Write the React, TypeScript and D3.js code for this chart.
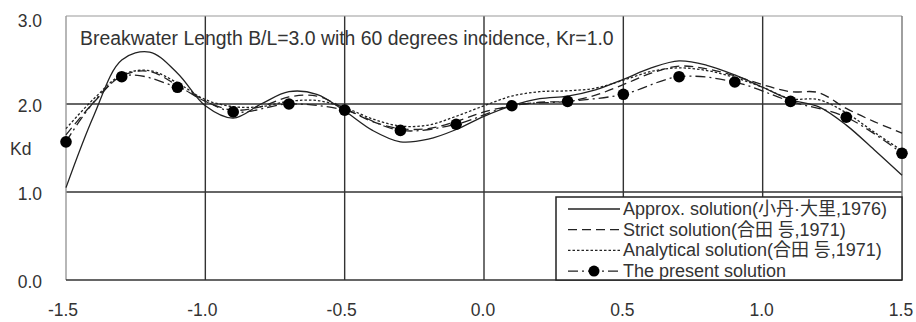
import * as d3 from 'd3'
import { useEffect, useRef } from 'react'

// x positions (B/L units) of the computed curves
const xs = [-1.5, -1.4, -1.3, -1.2, -1.1, -1.0, -0.9, -0.8, -0.7, -0.6, -0.5, -0.4, -0.3, -0.2, -0.1,
  0.0, 0.1, 0.2, 0.3, 0.4, 0.5, 0.6, 0.7, 0.8, 0.9, 1.0, 1.1, 1.2, 1.3, 1.4, 1.5]

const approx = [1.05, 1.87, 2.50, 2.59, 2.35, 1.98, 1.84, 2.00, 2.14, 2.11, 1.92, 1.70, 1.57, 1.60, 1.71,
  1.86, 1.98, 2.06, 2.09, 2.16, 2.28, 2.41, 2.49, 2.44, 2.33, 2.19, 2.05, 1.97, 1.76, 1.48, 1.19]

const strict = [1.65, 2.02, 2.32, 2.37, 2.21, 2.03, 1.93, 1.97, 2.08, 2.09, 1.95, 1.80, 1.72, 1.72, 1.80,
  1.91, 1.98, 2.02, 2.03, 2.10, 2.22, 2.35, 2.43, 2.40, 2.32, 2.22, 2.14, 2.13, 1.95, 1.80, 1.67]

const analytical = [1.72, 2.06, 2.33, 2.38, 2.24, 2.05, 1.97, 1.97, 2.03, 2.04, 1.96, 1.83, 1.75, 1.76, 1.86,
  1.98, 2.09, 2.14, 2.15, 2.18, 2.27, 2.37, 2.41, 2.38, 2.30, 2.19, 2.06, 2.05, 1.90, 1.68, 1.47]

// present solution, sampled every 0.2
const presentX = [-1.5, -1.3, -1.1, -0.9, -0.7, -0.5, -0.3, -0.1, 0.1, 0.3, 0.5, 0.7, 0.9, 1.1, 1.3, 1.5]
const present = [1.57, 2.31, 2.19, 1.91, 2.00, 1.93, 1.70, 1.77, 1.98, 2.03, 2.11, 2.31, 2.25, 2.03, 1.85, 1.44]

const xTicks = [-1.5, -1.0, -0.5, 0.0, 0.5, 1.0, 1.5]
const yTicks = [0, 1, 2, 3]

const legendLabels = [
  'Approx. solution(小丹·大里,1976)',
  'Strict solution(合田 등,1971)',
  'Analytical solution(合田 등,1971)',
  'The present solution',
]

const FONT = '"Liberation Sans", Arial, "Noto Sans CJK JP", "Noto Sans CJK KR", sans-serif'
const INK = '#222'

function drawChart(svgEl: SVGSVGElement) {
  const svg = d3.select(svgEl)
  svg.selectAll('*').remove()

  const x = d3.scaleLinear().domain([-1.5, 1.5]).range([66, 902])
  const y = d3.scaleLinear().domain([0, 3]).range([280, 16])

  const g = svg.append('g')

  // grid
  g.selectAll('line.vgrid').data(xTicks.slice(1, -1)).enter().append('line')
    .attr('x1', d => x(d)).attr('x2', d => x(d))
    .attr('y1', y(3)).attr('y2', y(0))
    .attr('stroke', '#333').attr('stroke-width', 1.4)
  g.selectAll('line.hgrid').data([1, 2]).enter().append('line')
    .attr('x1', x(-1.5)).attr('x2', x(1.5))
    .attr('y1', d => y(d)).attr('y2', d => y(d))
    .attr('stroke', '#333').attr('stroke-width', 1.4)

  // frame: light top/left/right, dark bottom
  g.append('line').attr('x1', x(-1.5)).attr('x2', x(1.5)).attr('y1', y(3)).attr('y2', y(3))
    .attr('stroke', '#999').attr('stroke-width', 1.2)
  g.append('line').attr('x1', x(-1.5)).attr('x2', x(-1.5)).attr('y1', y(3)).attr('y2', y(0))
    .attr('stroke', '#999').attr('stroke-width', 1.4)
  g.append('line').attr('x1', x(1.5)).attr('x2', x(1.5)).attr('y1', y(3)).attr('y2', y(0))
    .attr('stroke', '#777').attr('stroke-width', 1.4)
  g.append('line').attr('x1', x(-1.5)).attr('x2', x(1.5)).attr('y1', y(0)).attr('y2', y(0))
    .attr('stroke', '#333').attr('stroke-width', 1.6)

  // axis labels
  g.selectAll('text.yt').data(yTicks).enter().append('text')
    .attr('x', 42).attr('y', d => y(d) + (d === 3 ? 11 : 8))
    .attr('text-anchor', 'end')
    .attr('font-family', FONT).attr('font-size', 17.5).attr('fill', '#333')
    .text(d => d.toFixed(1))
  g.selectAll('text.xt').data(xTicks).enter().append('text')
    .attr('x', d => x(d) - (d < 0 ? 3 : 1)).attr('y', 316)
    .attr('text-anchor', 'middle')
    .attr('font-family', FONT).attr('font-size', 17.5).attr('fill', '#333')
    .text(d => d.toFixed(1))
  g.append('text').attr('x', 10).attr('y', 155)
    .attr('font-family', FONT).attr('font-size', 17.5).attr('fill', '#333')
    .text('Kd')

  g.append('text').attr('x', 80).attr('y', 45)
    .attr('font-family', FONT).attr('font-size', 19.4).attr('fill', '#333')
    .text('Breakwater Length B/L=3.0 with 60 degrees incidence, Kr=1.0')

  // curves
  const line = d3.line<[number, number]>()
    .x(d => x(d[0])).y(d => y(d[1]))
    .curve(d3.curveCatmullRom.alpha(0.5))

  const series = [
    { v: approx, dash: null },
    { v: strict, dash: '9,5' },
    { v: analytical, dash: '2.5,2' },
  ]
  series.forEach(s => {
    g.append('path')
      .attr('d', line(xs.map((xx, i) => [xx, s.v[i]] as [number, number])))
      .attr('fill', 'none').attr('stroke', INK).attr('stroke-width', 1.3)
      .attr('stroke-dasharray', s.dash)
  })
  g.append('path')
    .attr('d', line(presentX.map((xx, i) => [xx, present[i]] as [number, number])))
    .attr('fill', 'none').attr('stroke', INK).attr('stroke-width', 1.3)
    .attr('stroke-dasharray', '10,4,2,4')
  g.selectAll('circle.pt').data(presentX).enter().append('circle')
    .attr('cx', d => x(d)).attr('cy', (d, i) => y(present[i]))
    .attr('r', 5.8).attr('fill', '#000')

  // legend
  const lg = svg.append('g').attr('transform', 'translate(556, 197)')
  lg.append('rect').attr('x', 0).attr('y', 0).attr('width', 346).attr('height', 83)
    .attr('fill', '#fff').attr('stroke', '#222').attr('stroke-width', 1.5)
  const dashes = [null, '9,5', '2.5,2', '10,4,2,4']
  legendLabels.forEach((lab, i) => {
    const ly = 12 + i * 20.7
    lg.append('line').attr('x1', 12).attr('x2', 64).attr('y1', ly).attr('y2', ly)
      .attr('stroke', INK).attr('stroke-width', 1.3).attr('stroke-dasharray', dashes[i])
    if (i === 3) {
      lg.append('circle').attr('cx', 38).attr('cy', ly).attr('r', 5.5).attr('fill', '#000')
    }
    lg.append('text').attr('x', 67).attr('y', ly + 6)
      .attr('font-family', FONT).attr('font-size', 18).attr('fill', '#333')
      .text(lab)
  })
}

function App() {
  const ref = useRef<SVGSVGElement>(null)
  useEffect(() => {
    if (ref.current) drawChart(ref.current)
  })
  return (
    <svg ref={ref} width={916} height={322}
      style={{ position: 'absolute', left: 0, top: 0, background: '#fff', display: 'block' }}>
    </svg>
  )
}

export default App
